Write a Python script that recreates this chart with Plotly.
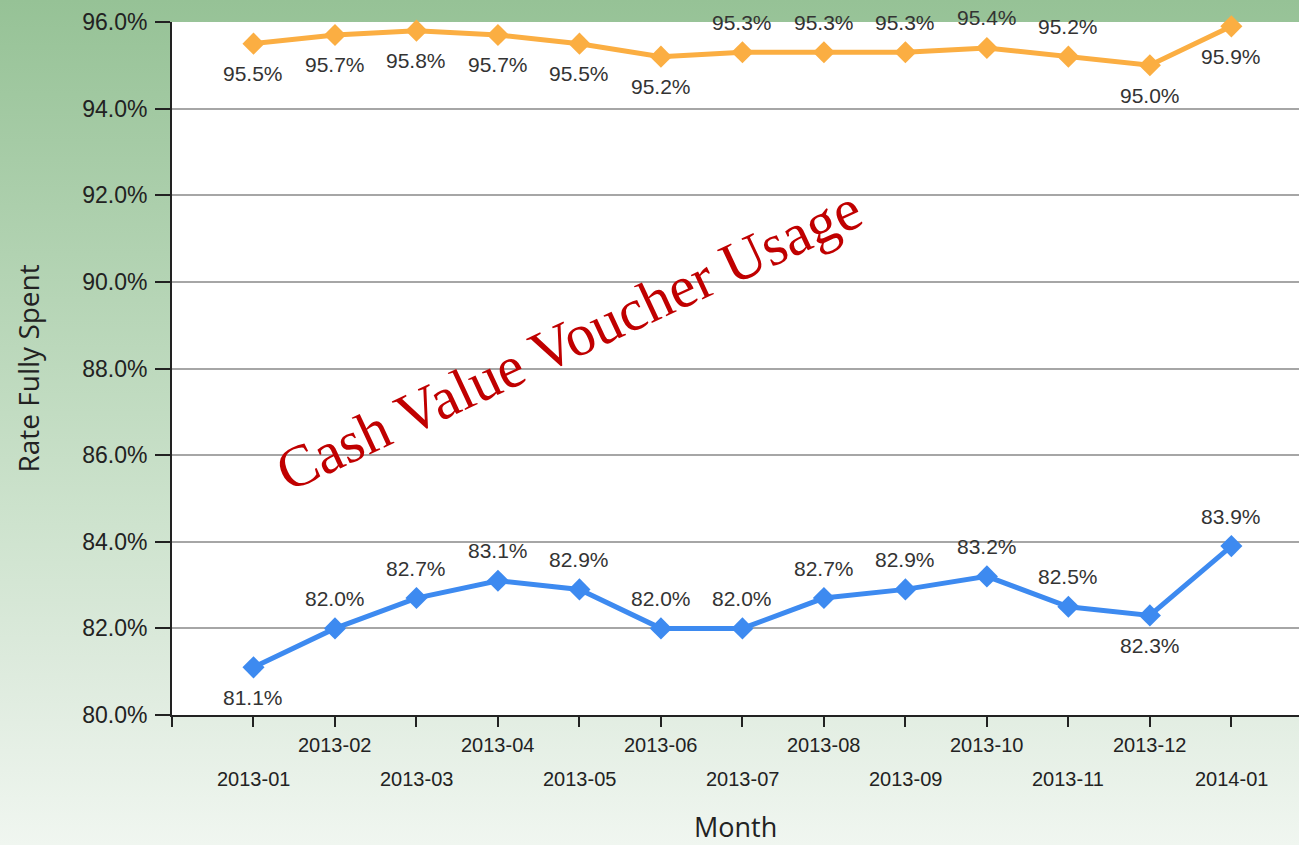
import base64
import plotly.graph_objects as go

months = ["2013-01", "2013-02", "2013-03", "2013-04", "2013-05", "2013-06", "2013-07",
          "2013-08", "2013-09", "2013-10", "2013-11", "2013-12", "2014-01"]
rate_high = [95.5, 95.7, 95.8, 95.7, 95.5, 95.2, 95.3, 95.3, 95.3, 95.4, 95.2, 95.0, 95.9]
rate_low = [81.1, 82.0, 82.7, 83.1, 82.9, 82.0, 82.0, 82.7, 82.9, 83.2, 82.5, 82.3, 83.9]
# +1 = label above the point, -1 = label below
side_high = [-1, -1, -1, -1, -1, -1, 1, 1, 1, 1, 1, -1, -1]
side_low = [-1, 1, 1, 1, 1, 1, 1, 1, 1, 1, 1, -1, 1]
y_ticks = [80, 82, 84, 86, 88, 90, 92, 94, 96]
title_text = "Cash Value Voucher Usage"

W, H = 1299, 845
L, R, T, B = 172, 0, 22, 130
pw, ph = W - L - R, H - T - B

idx = list(range(len(months)))
ORANGE, BLUE = "#fbae42", "#3d8af0"

fig = go.Figure()
for vals, col in ((rate_high, ORANGE), (rate_low, BLUE)):
    fig.add_trace(go.Scatter(
        x=idx, y=vals, mode="lines+markers",
        line=dict(color=col, width=5),
        marker=dict(symbol="diamond", size=17, color=col),
        cliponaxis=False, showlegend=False, hoverinfo="skip"))

svg = (f'<svg xmlns="http://www.w3.org/2000/svg" width="{W}" height="{H}" viewBox="0 0 {W} {H}" preserveAspectRatio="none">'
       '<defs><linearGradient id="g" x1="0" y1="0" x2="0" y2="1">'
       '<stop offset="0" stop-color="#96c296"/>'
       '<stop offset="0.3" stop-color="#b1d2b1"/>'
       '<stop offset="0.6" stop-color="#cce2cc"/>'
       '<stop offset="0.8" stop-color="#deebde"/>'
       '<stop offset="1" stop-color="#f0f6f0"/>'
       '</linearGradient></defs>'
       f'<rect width="{W}" height="{H}" fill="url(#g)"/></svg>')
src = "data:image/svg+xml;base64," + base64.b64encode(svg.encode()).decode()

annotations = []
for vals, sides in ((rate_high, side_high), (rate_low, side_low)):
    for i, (v, s) in enumerate(zip(vals, sides)):
        annotations.append(dict(x=i, xref="x", y=v, yref="y", text=f"{v:.1f}%",
                                showarrow=False, xanchor="center", yanchor="middle",
                                yshift=30 * s,
                                font=dict(family="Liberation Sans", size=21, color="#333333")))
for i, m in enumerate(months):
    ypx = 745 if i % 2 == 1 else 779
    annotations.append(dict(x=i, xref="x", y=-(ypx - (T + ph)) / ph, yref="paper",
                            text=m, showarrow=False, xanchor="center", yanchor="middle",
                            font=dict(family="Liberation Sans", size=20, color="#222222")))
annotations.append(dict(x=0.5, xref="paper", y=-(826 - (T + ph)) / ph, yref="paper",
                        text="Month", showarrow=False, xanchor="center", yanchor="middle",
                        font=dict(family="Open Sans", size=27, color="#222222")))
annotations.append(dict(x=(27 - L) / pw, xref="paper", y=0.5, yref="paper",
                        text="Rate Fully Spent", textangle=-90, showarrow=False,
                        xanchor="center", yanchor="middle",
                        font=dict(family="Open Sans", size=28, color="#222222")))
annotations.append(dict(x=(568 - L) / pw, xref="paper", y=((T + ph) - 340) / ph, yref="paper",
                        text=title_text, textangle=-25, showarrow=False,
                        xanchor="center", yanchor="middle",
                        font=dict(family="Liberation Serif", size=59, color="#c00000")))

fig.update_layout(
    width=W, height=H,
    margin=dict(l=L, r=R, t=T, b=B, pad=0),
    paper_bgcolor="rgba(0,0,0,0)", plot_bgcolor="rgba(0,0,0,0)",
    images=[dict(source=src, xref="paper", yref="paper", x=-L / pw, y=1 + T / ph,
                 sizex=W / pw, sizey=H / ph, sizing="stretch", xanchor="left", yanchor="top",
                 layer="below")],
    shapes=[dict(type="rect", xref="paper", yref="paper", x0=0, x1=1, y0=0, y1=1,
                 fillcolor="white", line=dict(width=0), layer="below")],
    annotations=annotations,
    xaxis=dict(range=[-1, 12.83], tickmode="array", tickvals=list(range(-1, 13)),
               showticklabels=False, ticks="outside", ticklen=10, tickwidth=2, tickcolor="#222222",
               showgrid=False, zeroline=False, showline=True, linecolor="#222222", linewidth=2),
    yaxis=dict(range=[80, 96], tickmode="array", tickvals=y_ticks,
               ticktext=[f"{v:.1f}%" for v in y_ticks],
               ticks="outside", ticklen=15, tickwidth=2, tickcolor="#222222",
               tickfont=dict(family="Liberation Sans", size=23, color="#222222"),
               ticklabelstandoff=3,
               showgrid=True, gridcolor="#a6a6a6", gridwidth=2,
               zeroline=False, showline=True, linecolor="#222222", linewidth=2),
)

fig.write_html("out.html", config={"displayModeBar": False},
               post_script="document.body.style.margin='0';document.body.style.overflow='hidden';")
